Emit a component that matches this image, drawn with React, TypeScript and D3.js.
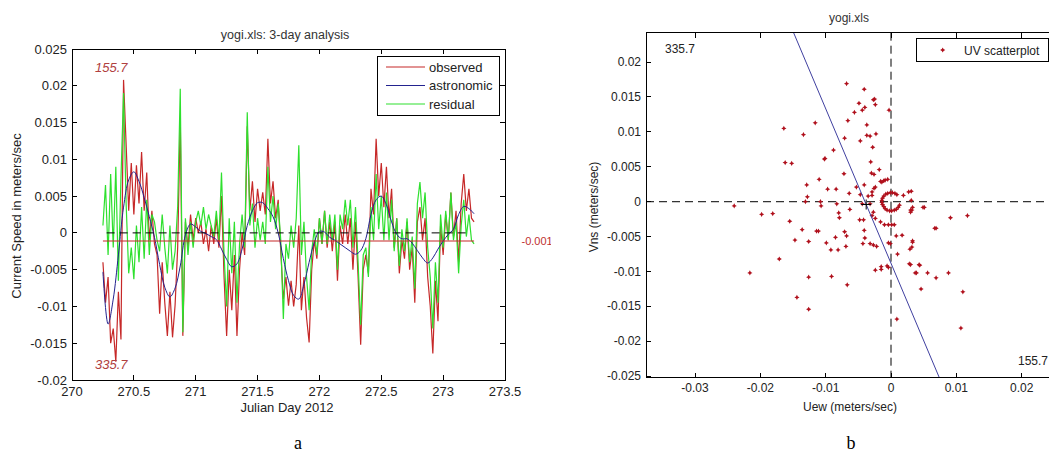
import React from 'react';
import * as d3 from 'd3';

// half-hourly samples starting at day 270.25
const startDay = 270.25;
const sampleStep = 1 / 48;
const astroStep = 1 / 24;

const observed = [
  -0.004, -0.0095, -0.006, -0.015, -0.013, -0.0175, -0.008, -0.0145, 0.0208, 0.012,
  0.003, 0.0095, 0.0025, 0.0092, 0.004, 0.011, 0.003, 0.0082, -0.001, 0.003,
  -0.0015, -0.003, -0.011, -0.004, -0.0095, -0.014, -0.008, -0.0142, -0.0098, -0.002,
  0.0155, -0.014, 0.0015, -0.002, 0.0025, -0.001, 0.002, 0.0, 0.0015, -0.0015,
  0.0005, -0.0025, 0.001, -0.0015, 0.002, -0.002, 0.005, -0.006, -0.014, -0.005,
  -0.0105, -0.003, -0.014, -0.005, 0.0, -0.003, 0.0145, 0.003, 0.007, 0.0015,
  0.006, 0.003, 0.0055, 0.0025, 0.0128, 0.004, 0.007, 0.002, 0.0045, -0.0025,
  -0.009, -0.006, -0.0099, -0.0065, -0.01, -0.007, 0.001, -0.0105, -0.006, -0.0115,
  -0.0149, -0.005, -0.001, -0.0035, 0.002, -0.0015, 0.003, -0.002, 0.0015, -0.0025,
  0.0015, -0.0065, 0.001, -0.0015, 0.0025, -0.0015, 0.002, -0.005, 0.0015, -0.006,
  -0.0152, -0.005, -0.003, -0.0055, 0.006, 0.0025, 0.0128, 0.005, 0.0095, 0.0035,
  0.009, 0.002, 0.006, -0.002, 0.002, -0.0055, -0.001, -0.0035, 0.0015, -0.005,
  -0.002, -0.0095, 0.0015, 0.0035, -0.001, 0.002, -0.006, -0.01, -0.0164, -0.0065,
  -0.012, 0.001, -0.003, 0.0025, -0.001, 0.0055, -0.0005, 0.003, -0.004, 0.004,
  0.008, 0.003, 0.006, 0.002, 0.0015,
];

const residual = [
  0.001, 0.0065, -0.003, 0.008, -0.002, 0.009, -0.0065, 0.0075, 0.019, 0.004,
  -0.0055, -0.002, -0.0063, 0.001, -0.004, 0.0035, -0.0035, 0.0045, -0.003, 0.0025,
  0.0015, -0.001, -0.0025, 0.0025, -0.002, -0.0055, 0.001, -0.005, -0.0025, 0.0035,
  0.0196, -0.0135, 0.002, -0.003, 0.0015, -0.002, 0.0015, 0.003, 0.001, 0.0035,
  0.0005, 0.0025, 0.001, -0.0005, 0.003, -0.001, 0.0082, -0.003, -0.01, 0.002,
  -0.0055, 0.0015, -0.0095, -0.0015, 0.0025, -0.002, 0.0164, 0.001, 0.004, -0.002,
  0.002, -0.001, 0.0015, -0.0015, 0.009, 0.0015, 0.005, 0.0005, 0.004, -0.001,
  -0.0117, -0.0015, -0.0035, 0.001, -0.002, 0.002, 0.0119, -0.003, 0.0015, -0.006,
  -0.0105, -0.0025, 0.0005, -0.003, 0.002, -0.0015, 0.003, -0.0015, 0.0025, -0.001,
  0.0025, -0.005, 0.0025, 0.0005, 0.0045, 0.001, 0.0045, -0.002, 0.0035, -0.004,
  -0.0125, -0.003, -0.002, -0.006, 0.0035, -0.001, 0.008, 0.0005, 0.005, -0.001,
  0.0055, -0.001, 0.0045, -0.0025, 0.002, -0.0045, 0.0005, -0.0025, 0.002, -0.004,
  -0.0005, -0.0076, 0.004, 0.0069, 0.002, 0.0055, -0.002, -0.006, -0.013, -0.004,
  -0.0095, 0.0025, -0.002, 0.003, -0.001, 0.0055, -0.001, 0.0015, -0.0055, 0.001,
  0.0045, -0.0005, 0.0025, -0.001, -0.0015,
];

// hourly tidal prediction
const astronomic = [
  -0.0053, -0.0124, -0.009, -0.003, 0.0035, 0.0072, 0.0083, 0.007, 0.0048, 0.0022,
  -0.0006, -0.0043, -0.0074, -0.0087, -0.0075, -0.0045, -0.0003, 0.0012, 0.0008, 0.0002,
  -0.0001, -0.0005, -0.0009, -0.0022, -0.0036, -0.0046, -0.0042, -0.0022, 0.001, 0.003,
  0.0041, 0.0041, 0.0033, 0.0022, 0.0, -0.0035, -0.0065, -0.0085, -0.009, -0.007,
  -0.004, -0.0013, 0.0002, 0.0001, -0.0006, -0.001, -0.0015, -0.002, -0.0025, -0.0029,
  -0.0024, -0.0008, 0.0025, 0.0045, 0.005, 0.0038, 0.0015, -0.0002, -0.0008, -0.0008,
  -0.0014, -0.0024, -0.0034, -0.0041, -0.0034, -0.0022, -0.0011, -0.0002, 0.0005, 0.0025,
  0.0036, 0.0033, 0.0026,
];

const meanSpeed = -0.0011;
const meanLabel = '-0.001';
const dirMajor = 155.7;
const dirMinor = 335.7;
const zeroLineDays = [270.28, 273.185];

const dayTicks = [270, 270.5, 271, 271.5, 272, 272.5, 273, 273.5];
const speedTicks = [-0.02, -0.015, -0.01, -0.005, 0, 0.005, 0.01, 0.015, 0.02, 0.025];

const uvMean = [-0.0038, -0.0004];
const uvPoints: [number, number][] = [
  [-0.024, -0.0006], [-0.0198, -0.0018], [-0.0181, -0.0017], [-0.0164, 0.0105], [-0.0162, 0.0056],
  [-0.0152, 0.0055], [-0.0155, -0.0028], [-0.0147, -0.0055], [-0.0171, -0.0082], [-0.0216, -0.0102],
  [-0.0144, -0.0137], [-0.0134, 0.0096], [-0.0129, 0.0024], [-0.0128, 0.0007], [-0.0131, 0.0],
  [-0.0136, -0.004], [-0.0126, -0.0057], [-0.0126, -0.0108], [-0.0126, -0.0154], [-0.0116, 0.0113],
  [-0.0114, -0.0042], [-0.0111, -0.0042], [-0.011, 0.0032], [-0.0108, 0.0], [-0.0107, -0.0006],
  [-0.0102, 0.0061], [-0.0101, 0.0062], [-0.0097, 0.0018], [-0.0099, -0.0059], [-0.0092, -0.0069],
  [-0.0088, 0.0074], [-0.0084, 0.0018], [-0.0083, -0.0003], [-0.008, -0.0016], [-0.0079, -0.0023],
  [-0.0072, 0.004], [-0.0071, 0.0091], [-0.0068, 0.0169], [-0.0066, 0.0116], [-0.0071, -0.0043],
  [-0.0068, -0.0049], [-0.0081, -0.0069], [-0.0085, -0.0051], [-0.0069, -0.0064], [-0.0067, -0.0119],
  [-0.0091, -0.0107], [-0.0064, 0.0012], [-0.0063, -0.0011], [-0.0056, 0.0128], [-0.0053, 0.0021],
  [-0.0047, 0.0087], [-0.0049, 0.0141], [-0.0044, 0.0131], [-0.0047, 0.001], [-0.0044, -0.0003],
  [-0.0041, 0.0161], [-0.004, 0.0135], [-0.0041, 0.0024], [-0.0048, -0.0026], [-0.0042, -0.0026],
  [-0.0041, -0.0041], [-0.0043, -0.006], [-0.004, -0.0052], [-0.0037, 0.011], [-0.0035, 0.0008],
  [-0.0037, 0.0095], [-0.0032, 0.0094], [-0.0031, 0.0057], [-0.003, 0.0041], [-0.0028, 0.0078],
  [-0.0027, 0.0146], [-0.0025, 0.0147], [-0.0024, 0.0139], [-0.0023, 0.0097], [-0.0026, 0.0039],
  [-0.0026, 0.0019], [-0.0032, -0.006], [-0.0027, -0.0062], [-0.0022, -0.0064], [-0.0018, 0.0046],
  [-0.0024, -0.0098], [-0.0015, -0.0097], [-0.0015, -0.0093], [-0.0014, 0.0028], [-0.0011, 0.003],
  [-0.0003, 0.0131], [-0.0004, -0.0094], [-0.0001, -0.006], [-0.001, -0.0033], [-0.0004, -0.0033],
  [0.0001, -0.0033], [0.0005, -0.0033], [0.0008, -0.0049], [0.0017, -0.0048], [0.001, -0.0075],
  [0.0009, -0.0168], [0.0019, 0.0009], [0.0031, 0.0015], [0.0032, -0.0012], [0.0033, -0.0056],
  [0.0032, -0.0065], [0.003, -0.009], [0.0039, -0.0102], [0.0044, -0.0091], [0.0046, -0.0125],
  [0.0051, -0.0008], [0.0056, -0.0102], [0.0069, -0.0109], [0.0069, -0.0038], [0.0088, -0.0102],
  [0.0091, -0.0023], [0.011, -0.0129], [0.0107, -0.0181], [0.0117, -0.002], [0.0037, -0.0102],
  [0.0043, -0.009], [0.0028, -0.0089], [0.0029, -0.0068], [0.0033, -0.0058], [-0.0006, -0.0092],
  [-0.0004, -0.0059], [0.0049, -0.0008], [0.0067, -0.0038],
  // outer ring of slow readings
  [-0.0029, 0.0009], [-0.0032, -0.0003], [-0.0027, -0.0015], [0.0027, 0.0014], [0.0031, 0.0002],
  [0.003, -0.0012], [-0.0016, 0.0029], [-0.0009, 0.0031], [-0.0005, 0.0032], [-0.0024, 0.0021],
  [-0.0029, 0.0014], [-0.0029, -0.002], [-0.0024, -0.0024], [-0.0016, -0.0029], [0.003, -0.0015],
  [0.0033, -0.0008],
  // inner ring
  [0.0009, 0.001], [0.0006, 0.0012], [0.0002, 0.0013], [-0.0001, 0.0013], [-0.0005, 0.0012],
  [-0.0008, 0.0011], [-0.0011, 0.0008], [-0.0013, 0.0005], [-0.0014, 0.0002], [-0.0014, -0.0001],
  [-0.0013, -0.0004], [-0.0011, -0.0007], [-0.0009, -0.001], [-0.0006, -0.0012], [-0.0002, -0.0013],
  [0.0001, -0.0013], [0.0005, -0.0012], [0.0008, -0.0011], [0.0011, -0.0008], [0.0013, -0.0005],
];
const uTicks = [-0.03, -0.02, -0.01, 0, 0.01, 0.02];
const vTicks = [-0.025, -0.02, -0.015, -0.01, -0.005, 0, 0.005, 0.01, 0.015, 0.02];

const font = '"Liberation Sans", Arial, sans-serif';
const ink = '#222';
const obsColor = '#c62828';
const resColor = '#2ee02e';
const astColor = '#23238f';
const dotColor = '#b0101c';
// small four-point marker
const marker = 'M0,-2.6L0.9,-0.9L2.6,0L0.9,0.9L0,2.6L-0.9,0.9L-2.6,0L-0.9,-0.9Z';

const LeftChart = () => {
  const box = { left: 72, right: 505, top: 49, bottom: 380 };
  const x = d3.scaleLinear().domain([270, 273.5]).range([box.left, box.right]);
  const y = d3.scaleLinear().domain([-0.02, 0.025]).range([box.bottom, box.top]);
  const series = (step: number) =>
    d3.line<number>().x((_, i) => x(startDay + i * step)).y(d => y(d));
  const smooth = series(astroStep).curve(d3.curveCatmullRom);
  const t0 = startDay;
  const t1 = startDay + (observed.length - 1) * sampleStep;
  const legend = [
    { name: 'observed', color: obsColor },
    { name: 'astronomic', color: astColor },
    { name: 'residual', color: resColor },
  ];
  return (
    <g fontFamily={font} fill={ink}>
      <text x={285} y={39} fontSize={12.5} textAnchor="middle" fill="#333">yogi.xls: 3-day analysis</text>
      <path d={series(sampleStep)(observed) || ''} fill="none" stroke={obsColor} strokeWidth={1.2} />
      <path d={series(sampleStep)(residual) || ''} fill="none" stroke={resColor} strokeWidth={1.2} />
      <path d={smooth(astronomic) || ''} fill="none" stroke={astColor} strokeWidth={1} />
      <line x1={x(zeroLineDays[0])} x2={x(zeroLineDays[1])} y1={y(0)} y2={y(0)} stroke="#000" strokeDasharray="8,5" />
      <line x1={x(t0)} x2={x(t1)} y1={y(meanSpeed)} y2={y(meanSpeed)} stroke={obsColor} strokeWidth={1.2} />
      <text x={95} y={72} fontSize={13} fontStyle="italic" fill="#b04040">{dirMajor.toFixed(1)}</text>
      <text x={95} y={369} fontSize={13} fontStyle="italic" fill="#b04040">{dirMinor.toFixed(1)}</text>
      <rect x={box.left} y={box.top} width={box.right - box.left} height={box.bottom - box.top}
        fill="none" stroke="#000" shapeRendering="crispEdges" />
      {dayTicks.map(d => (
        <g key={'d' + d}>
          <line x1={x(d)} x2={x(d)} y1={box.bottom} y2={box.bottom - 5} stroke="#000" shapeRendering="crispEdges" />
          <line x1={x(d)} x2={x(d)} y1={box.top} y2={box.top + 5} stroke="#000" shapeRendering="crispEdges" />
          <text x={x(d)} y={396} fontSize={13} textAnchor="middle">{String(d)}</text>
        </g>
      ))}
      {speedTicks.map(v => (
        <g key={'s' + v}>
          <line x1={box.left} x2={box.left + 5} y1={y(v)} y2={y(v)} stroke="#000" shapeRendering="crispEdges" />
          <line x1={box.right} x2={box.right - 5} y1={y(v)} y2={y(v)} stroke="#000" shapeRendering="crispEdges" />
          <text x={67} y={y(v) + 4.5} fontSize={13} textAnchor="end">{String(v)}</text>
        </g>
      ))}
      <text x={287} y={412} fontSize={13} textAnchor="middle">Julian Day 2012</text>
      <text transform="translate(21,216) rotate(-90)" fontSize={13} textAnchor="middle">Current Speed in meters/sec</text>
      <rect x={377} y={56} width={122} height={59} fill="#fff" stroke="#000" shapeRendering="crispEdges" />
      {legend.map((l, i) => (
        <g key={l.name}>
          <line x1={386} x2={425} y1={67 + i * 18.5} y2={67 + i * 18.5} stroke={l.color} strokeWidth={1.2} />
          <text x={429} y={71.5 + i * 18.5} fontSize={13}>{l.name}</text>
        </g>
      ))}
      <text x={521.5} y={245} fontSize={11} fill="#c03030">{meanLabel}</text>
    </g>
  );
};

const RightChart = () => {
  const box = { left: 646, top: 32.7, bottom: 377.7 };
  const x = d3.scaleLinear().domain([-0.0375, 0.0375]).range([box.left, 1136]);
  const y = d3.scaleLinear().domain([-0.0252, 0.0242]).range([box.bottom, box.top]);
  // principal axis through the mean current
  const rad = (dirMajor * Math.PI) / 180;
  const du = Math.sin(rad);
  const dv = Math.cos(rad);
  const sTop = (0.0242 - uvMean[1]) / dv;
  const sBot = (-0.0252 - uvMean[1]) / dv;
  const mx = x(uvMean[0]);
  const my = y(uvMean[1]);
  return (
    <g fontFamily={font} fill={ink}>
      <rect x={551} y={0} width={498} height={455} fill="#fff" />
      <text x={849} y={22} fontSize={12} textAnchor="middle" fill="#333">yogi.xls</text>
      <line x1={x(0)} x2={x(0)} y1={box.top} y2={box.bottom} stroke="#000" strokeDasharray="8,5" />
      <line x1={box.left} x2={1049} y1={y(0)} y2={y(0)} stroke="#000" strokeDasharray="8,5" />
      {uvPoints.map((p, i) => (
        <path key={i} d={marker} transform={`translate(${x(p[0])},${y(p[1])})`} fill={dotColor} />
      ))}
      <line x1={x(uvMean[0] + sTop * du)} y1={y(0.0242)} x2={x(uvMean[0] + sBot * du)} y2={y(-0.0252)}
        stroke="#4040a0" strokeWidth={1} />
      <path d={`M${mx - 5},${my}H${mx + 5}M${mx},${my - 5}V${my + 5}`} stroke="#000" strokeWidth={1} />
      <line x1={box.left} x2={1049} y1={box.top} y2={box.top} stroke="#000" shapeRendering="crispEdges" />
      <line x1={box.left} x2={1049} y1={box.bottom} y2={box.bottom} stroke="#000" shapeRendering="crispEdges" />
      <line x1={box.left} x2={box.left} y1={box.top} y2={box.bottom} stroke="#000" shapeRendering="crispEdges" />
      {uTicks.map(u => (
        <g key={'u' + u}>
          <line x1={x(u)} x2={x(u)} y1={box.bottom} y2={box.bottom - 5} stroke="#000" shapeRendering="crispEdges" />
          <line x1={x(u)} x2={x(u)} y1={box.top} y2={box.top + 5} stroke="#000" shapeRendering="crispEdges" />
          <text x={x(u)} y={392} fontSize={12} textAnchor="middle">{String(u)}</text>
        </g>
      ))}
      {vTicks.map(v => (
        <g key={'v' + v}>
          <line x1={box.left} x2={box.left + 5} y1={y(v)} y2={y(v)} stroke="#000" shapeRendering="crispEdges" />
          <text x={641} y={y(v) + 4} fontSize={12} textAnchor="end">{String(v)}</text>
        </g>
      ))}
      <text x={680} y={53} fontSize={12} textAnchor="middle">{dirMinor.toFixed(1)}</text>
      <text x={1048} y={365} fontSize={12} textAnchor="end">{dirMajor.toFixed(1)}</text>
      <text x={850} y={411} fontSize={12} textAnchor="middle">Uew (meters/sec)</text>
      <text transform="translate(598,207) rotate(-90)" fontSize={12} textAnchor="middle">Vns (meters/sec)</text>
      <rect x={916} y={38.5} width={132} height={23} fill="#fff" stroke="#000" shapeRendering="crispEdges" />
      <path d={marker} transform="translate(942.7,50)" fill={dotColor} />
      <text x={964} y={54.5} fontSize={12}>UV scatterplot</text>
    </g>
  );
};

const App = () => (
  <svg width={1049} height={455} style={{ position: 'absolute', left: 0, top: 0, background: '#fff' }}>
    <LeftChart />
    <RightChart />
    <text x={298} y={449} fontSize={18} textAnchor="middle" fontFamily='"Liberation Serif", serif'>a</text>
    <text x={851} y={449} fontSize={18} textAnchor="middle" fontFamily='"Liberation Serif", serif'>b</text>
  </svg>
);

export default App;
